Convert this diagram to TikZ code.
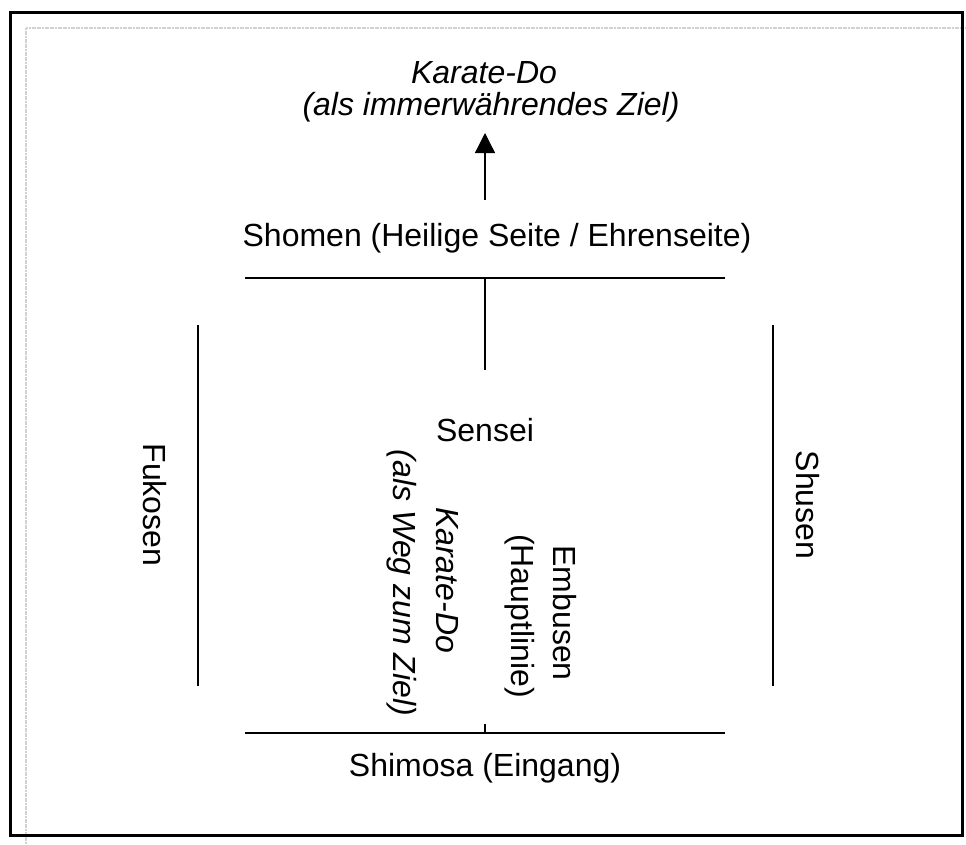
\documentclass[tikz,border=0pt]{standalone}
\usepackage{fontspec}
\setmainfont{Liberation Sans}
\usetikzlibrary{arrows.meta}
\begin{document}
\begin{tikzpicture}[x=1pt,y=-1pt,
  lbl/.style={inner sep=0pt,font=\fontsize{32}{36}\selectfont},
  ilbl/.style={lbl,font=\fontsize{32}{36}\selectfont\itshape},
  ln/.style={line width=1.3pt,black},
  arr/.style={line width=1.3pt,-{Triangle[length=20pt,width=20pt]}}]
\useasboundingbox (0,0) rectangle (966,844);
% frames
\draw[line width=2pt,color={rgb,255:red,210;green,210;blue,210},dash pattern=on 2pt off 0.6pt] (26,844) -- (26,28) -- (966,28);
\draw[line width=3pt] (10,12) rectangle (962,835);
% top text
\node[ilbl] (goal1) at (484,73) {Karate-Do};
\node[ilbl] (goal2) at (491,107) {(als immerwährendes Ziel)};
\coordinate (arrS) at (485,200);
\coordinate (arrE) at (485,133);
\draw[arr] (arrS) -- (arrE);
\node[lbl] (shomen) at (497,238) {Shomen (Heilige Seite / Ehrenseite)};
% lines
\coordinate (tl) at (245,278); \coordinate (tr) at (725,278);
\coordinate (tm) at (485,278); \coordinate (tmb) at (485,370);
\draw[ln] (tl) -- (tr);
\draw[ln] (tm) -- (tmb);
\coordinate (ll1) at (198,325); \coordinate (ll2) at (198,686);
\coordinate (rl1) at (773,325); \coordinate (rl2) at (773,686);
\draw[ln] (ll1) -- (ll2);
\draw[ln] (rl1) -- (rl2);
\coordinate (bl) at (245,733); \coordinate (br) at (725,733);
\coordinate (bm) at (485,724); \coordinate (bmb) at (485,733);
\draw[ln] (bl) -- (br);
\draw[ln] (bm) -- (bmb);
% labels
\node[lbl] (sensei) at (485,430) {Sensei};
\node[lbl,rotate=-90] (fukosen) at (155,505) {Fukosen};
\node[lbl,rotate=-90] (shusen) at (808,505) {Shusen};
\node[ilbl,rotate=-90] (kdw1) at (447,580) {Karate-Do};
\node[ilbl,rotate=-90] (kdw2) at (402,583) {(als Weg zum Ziel)};
\node[lbl,rotate=-90] (emb1) at (565,613) {Embusen};
\node[lbl,rotate=-90] (emb2) at (520,616) {(Hauptlinie)};
\node[lbl] (shimosa) at (485,768) {Shimosa (Eingang)};
\end{tikzpicture}
\end{document}
